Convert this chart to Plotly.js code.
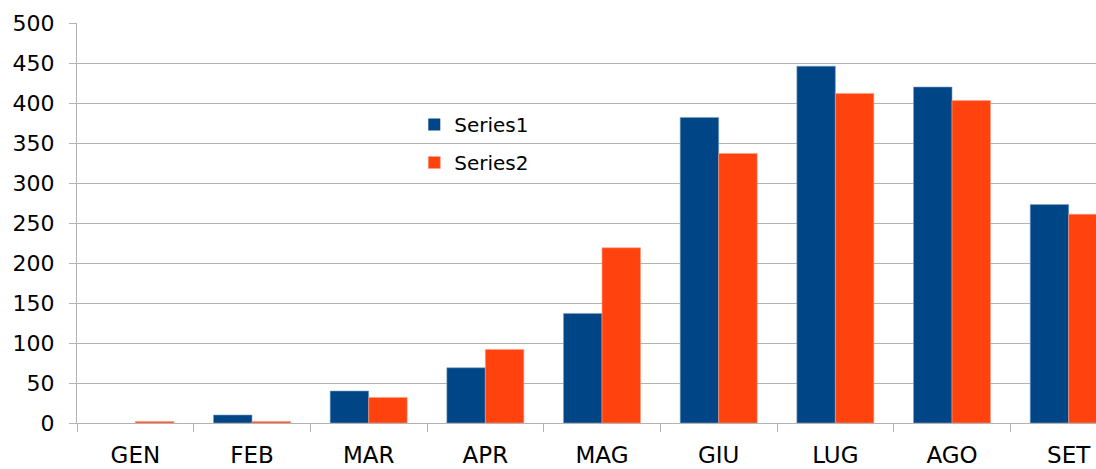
<!DOCTYPE html>
<html>
<head>
<meta charset="utf-8">
<script src="https://cdn.plot.ly/plotly-3.0.1.min.js"></script>
<style>html,body{margin:0;padding:0;background:#fff;}#chart{width:1096px;height:469px;}</style>
</head>
<body>
<div id="chart"></div>
<script>
var months = ["GEN","FEB","MAR","APR","MAG","GIU","LUG","AGO","SET"];
var series1 = [0, 10, 40, 69, 137, 382, 446, 420, 273];
var series2 = [2, 2, 32, 92, 219, 337, 412, 403, 261];
var yTicks = [0,50,100,150,200,250,300,350,400,450,500];

var fam = "DejaVu Sans, Liberation Sans, Arial, sans-serif";
function outline(vals) { return vals.map(function (v) { return v > 0 ? 0.6 : 0; }); }

var traces = [
  {type: "bar", name: "Series1", x: months, y: series1, legendgroup: "a",
   marker: {color: "#004586", line: {color: "#7fa2c3", width: outline(series1)}}},
  {type: "bar", name: "Series2", x: months, y: series2, legendgroup: "b",
   marker: {color: "#ff420e", line: {color: "#ffa086", width: outline(series2)}}}
];

var layout = {
  width: 1096, height: 469,
  margin: {l: 77, r: 0, t: 23, b: 46, pad: 0},
  paper_bgcolor: "#fff", plot_bgcolor: "#fff",
  font: {family: fam, size: 20, color: "#000"},
  bargap: 0.34, bargroupgap: 0,
  barmode: "group",
  showlegend: true,
  legend: {x: 0.331, y: 0.795, xanchor: "left", yanchor: "top",
           bgcolor: "rgba(0,0,0,0)", font: {family: fam, size: 20, color: "#000"},
           traceorder: "grouped", tracegroupgap: 9, itemwidth: 30},
  xaxis: {
    type: "category", range: [-0.5, 8.234], fixedrange: true,
    tickson: "boundaries", ticks: "outside", ticklen: 8, tickcolor: "#b3b3b3", tickwidth: 1,
    showgrid: false, showline: true, linecolor: "#b3b3b3", linewidth: 1,
    tickfont: {family: fam, size: 23, color: "#000"}, ticklabelstandoff: 11
  },
  yaxis: {
    range: [0, 500], tickvals: yTicks, ticktext: yTicks.map(String),
    ticks: "outside", ticklen: 7, tickcolor: "#b3b3b3", tickwidth: 1,
    showgrid: true, gridcolor: "#b3b3b3", gridwidth: 1,
    showline: true, linecolor: "#b3b3b3", linewidth: 1,
    zeroline: false, tickfont: {family: fam, size: 22, color: "#000"}, ticklabelstandoff: 10
  }
};

Plotly.newPlot("chart", traces, layout, {displayModeBar: false, staticPlot: true});
</script>
</body>
</html>
